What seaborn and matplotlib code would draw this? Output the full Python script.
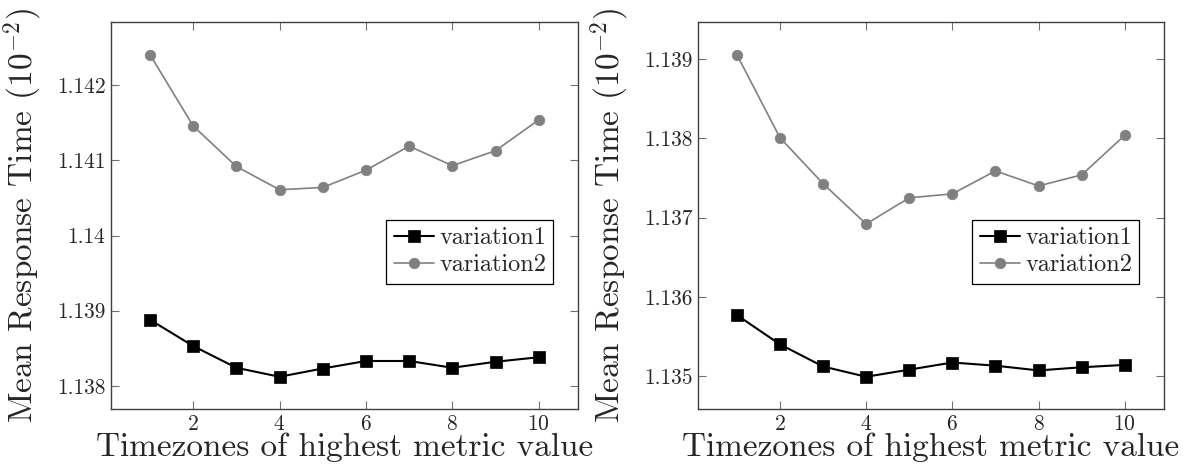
import matplotlib
matplotlib.use("Agg")
import matplotlib.pyplot as plt
import pandas as pd
import seaborn as sns
from matplotlib.ticker import FixedLocator, FuncFormatter

# Timezone index on the x axis
timezones = [1, 2, 3, 4, 5, 6, 7, 8, 9, 10]

# Left panel: mean response time per variation
left_variation1 = [1.13888, 1.13853, 1.13824, 1.13812, 1.13823,
                   1.13833, 1.13833, 1.13824, 1.13832, 1.13838]
left_variation2 = [1.14241, 1.14146, 1.14092, 1.14061, 1.14064,
                   1.14087, 1.14119, 1.14093, 1.14113, 1.14154]

# Right panel: mean response time per variation
right_variation1 = [1.13577, 1.13540, 1.13512, 1.13499, 1.13508,
                    1.13517, 1.13513, 1.13507, 1.13511, 1.13514]
right_variation2 = [1.13906, 1.13801, 1.13743, 1.13692, 1.13725,
                    1.13730, 1.13759, 1.13740, 1.13754, 1.13804]

series_names = ["variation1", "variation2"]
x_ticks = [2, 4, 6, 8, 10]
left_y_ticks = [1.138, 1.139, 1.140, 1.141, 1.142]
right_y_ticks = [1.135, 1.136, 1.137, 1.138, 1.139]
x_label = "Timezones of highest metric value"
y_label = r"Mean Response Time $(10^{-2})$"

sns.set_theme(style="white")
plt.rcParams.update({
    "font.family": ["cmr10"],
    "mathtext.fontset": "cm",
    "axes.unicode_minus": False,
    "axes.formatter.use_mathtext": True,
})

series_styles = {
    "variation1": dict(color="black", marker="s", markersize=8.0, linewidth=1.5),
    "variation2": dict(color="#808080", marker="o", markersize=7.6, linewidth=1.2),
}


def tick_text(v, _pos=None):
    s = f"{v:.3f}".rstrip("0").rstrip(".")
    return s


def draw_panel(ax, v1, v2, yticks):
    frame = pd.DataFrame({
        "tz": timezones * 2,
        "value": v1 + v2,
        "series": [series_names[0]] * len(v1) + [series_names[1]] * len(v2),
    })
    for name in series_names:
        st = series_styles[name]
        sns.lineplot(data=frame[frame["series"] == name], x="tz", y="value",
                     ax=ax, color=st["color"], marker=st["marker"],
                     markersize=st["markersize"], linewidth=st["linewidth"],
                     markeredgecolor=st["color"], markeredgewidth=0.5,
                     label=name, errorbar=None)
    ax.margins(x=0.1, y=0.1)
    ax.xaxis.set_major_locator(FixedLocator(x_ticks))
    ax.yaxis.set_major_locator(FixedLocator(yticks))
    ax.yaxis.set_major_formatter(FuncFormatter(tick_text))
    ax.tick_params(axis="both", which="major", direction="in", length=6,
                   width=0.8, color="#707070", labelsize=15.5,
                   top=True, right=True, bottom=True, left=True, pad=4)
    for sp in ax.spines.values():
        sp.set_visible(True)
        sp.set_color("#404040")
        sp.set_linewidth(1.0)
    ax.set_xlabel(x_label, fontsize=24)
    ax.set_ylabel(y_label, fontsize=24)
    ax.xaxis.set_label_coords(0.5, -0.062)
    ax.yaxis.set_label_coords(-0.141, 0.5)
    leg = ax.legend(loc="upper right", bbox_to_anchor=(0.948, 0.489),
                    fontsize=17.5, frameon=True, fancybox=False, framealpha=1,
                    edgecolor="black", handlelength=1.65, handletextpad=0.22,
                    borderpad=0.3, labelspacing=0.2, borderaxespad=0.0)
    leg.get_frame().set_linewidth(0.9)


fig = plt.figure(figsize=(11.95, 4.70), dpi=100)
ax_left = fig.add_axes([0.0929, 0.1298, 0.3905, 0.8228])
ax_right = fig.add_axes([0.5841, 0.1298, 0.3896, 0.8228])

draw_panel(ax_left, left_variation1, left_variation2, left_y_ticks)
draw_panel(ax_right, right_variation1, right_variation2, right_y_ticks)

fig.savefig("out.png", dpi=100, facecolor="white")
